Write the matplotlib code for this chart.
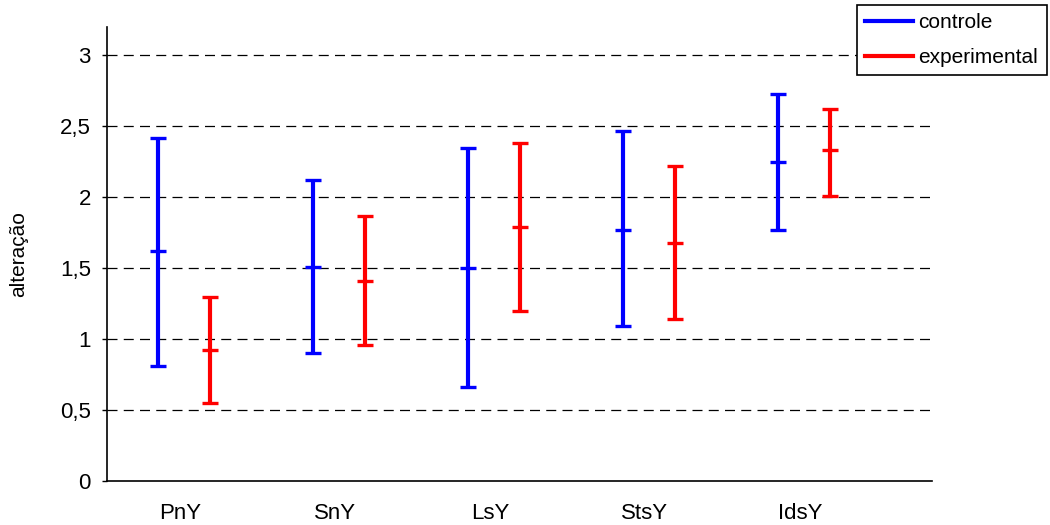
import matplotlib.pyplot as plt
import numpy as np
from matplotlib.lines import Line2D

plt.rcParams['font.family'] = ['Liberation Sans', 'DejaVu Sans']

categories = ['PnY', 'SnY', 'LsY', 'StsY', 'IdsY']

# controle: high, mean, low
ctrl_high = [2.42, 2.12, 2.35, 2.47, 2.73]
ctrl_mean = [1.62, 1.51, 1.50, 1.77, 2.25]
ctrl_low = [0.81, 0.90, 0.66, 1.09, 1.77]

# experimental: high, mean, low
exp_high = [1.30, 1.87, 2.38, 2.22, 2.62]
exp_mean = [0.92, 1.41, 1.79, 1.68, 2.33]
exp_low = [0.55, 0.96, 1.20, 1.14, 2.01]

fig = plt.figure(figsize=(10.5, 5.25), dpi=100)
ax = fig.add_axes([107/1050, 44/525, 825/1050, 454/525])

x = np.arange(len(categories))


def draw(offset, high, mean, low, color, label):
    high = np.array(high)
    mean = np.array(mean)
    low = np.array(low)
    ax.errorbar(x + offset, mean, yerr=[mean - low, high - mean], fmt='_',
                color=color, ms=11, mew=2.4, elinewidth=3, capsize=5.5,
                capthick=2.4, label=label, zorder=3)


draw(-0.142, ctrl_high, ctrl_mean, ctrl_low, '#0000ff', 'controle')
draw(0.194, exp_high, exp_mean, exp_low, '#ff0000', 'experimental')

ax.set_xlim(-0.471, 4.852)
ax.set_ylim(0, 3.2)
ax.set_xticks(x)
ax.set_xticklabels(categories, fontsize=16)
ax.tick_params(axis='x', length=0, pad=16)
ax.set_yticks([0, 0.5, 1, 1.5, 2, 2.5, 3])
ax.set_yticklabels(['0', '0,5', '1', '1,5', '2', '2,5', '3'], fontsize=16)
ax.tick_params(axis='y', length=3.6, width=1, pad=8)

for v in [0.5, 1, 1.5, 2, 2.5, 3]:
    ax.axhline(v, color='black', lw=0.9, ls=(0, (8, 5)), zorder=1)

for s in ['top', 'right']:
    ax.spines[s].set_visible(False)
for s in ['left', 'bottom']:
    ax.spines[s].set_linewidth(1.2)

ax.set_ylabel('alteração', fontsize=15)
ax.yaxis.set_label_coords(-0.095, 0.5)

handles = [Line2D([0], [0], color='#0000ff', lw=3),
           Line2D([0], [0], color='#ff0000', lw=3)]
leg = fig.legend(handles, ['controle', 'experimental'], loc='upper left',
                 bbox_to_anchor=(857/1050, 1 - 5/525), fontsize=15,
                 frameon=True, fancybox=False, edgecolor='black',
                 framealpha=1, handlelength=2.3, handletextpad=0.25,
                 borderpad=0.4, labelspacing=0.75, borderaxespad=0)
leg.get_frame().set_linewidth(1.2)

fig.savefig('out.png', dpi=100)
